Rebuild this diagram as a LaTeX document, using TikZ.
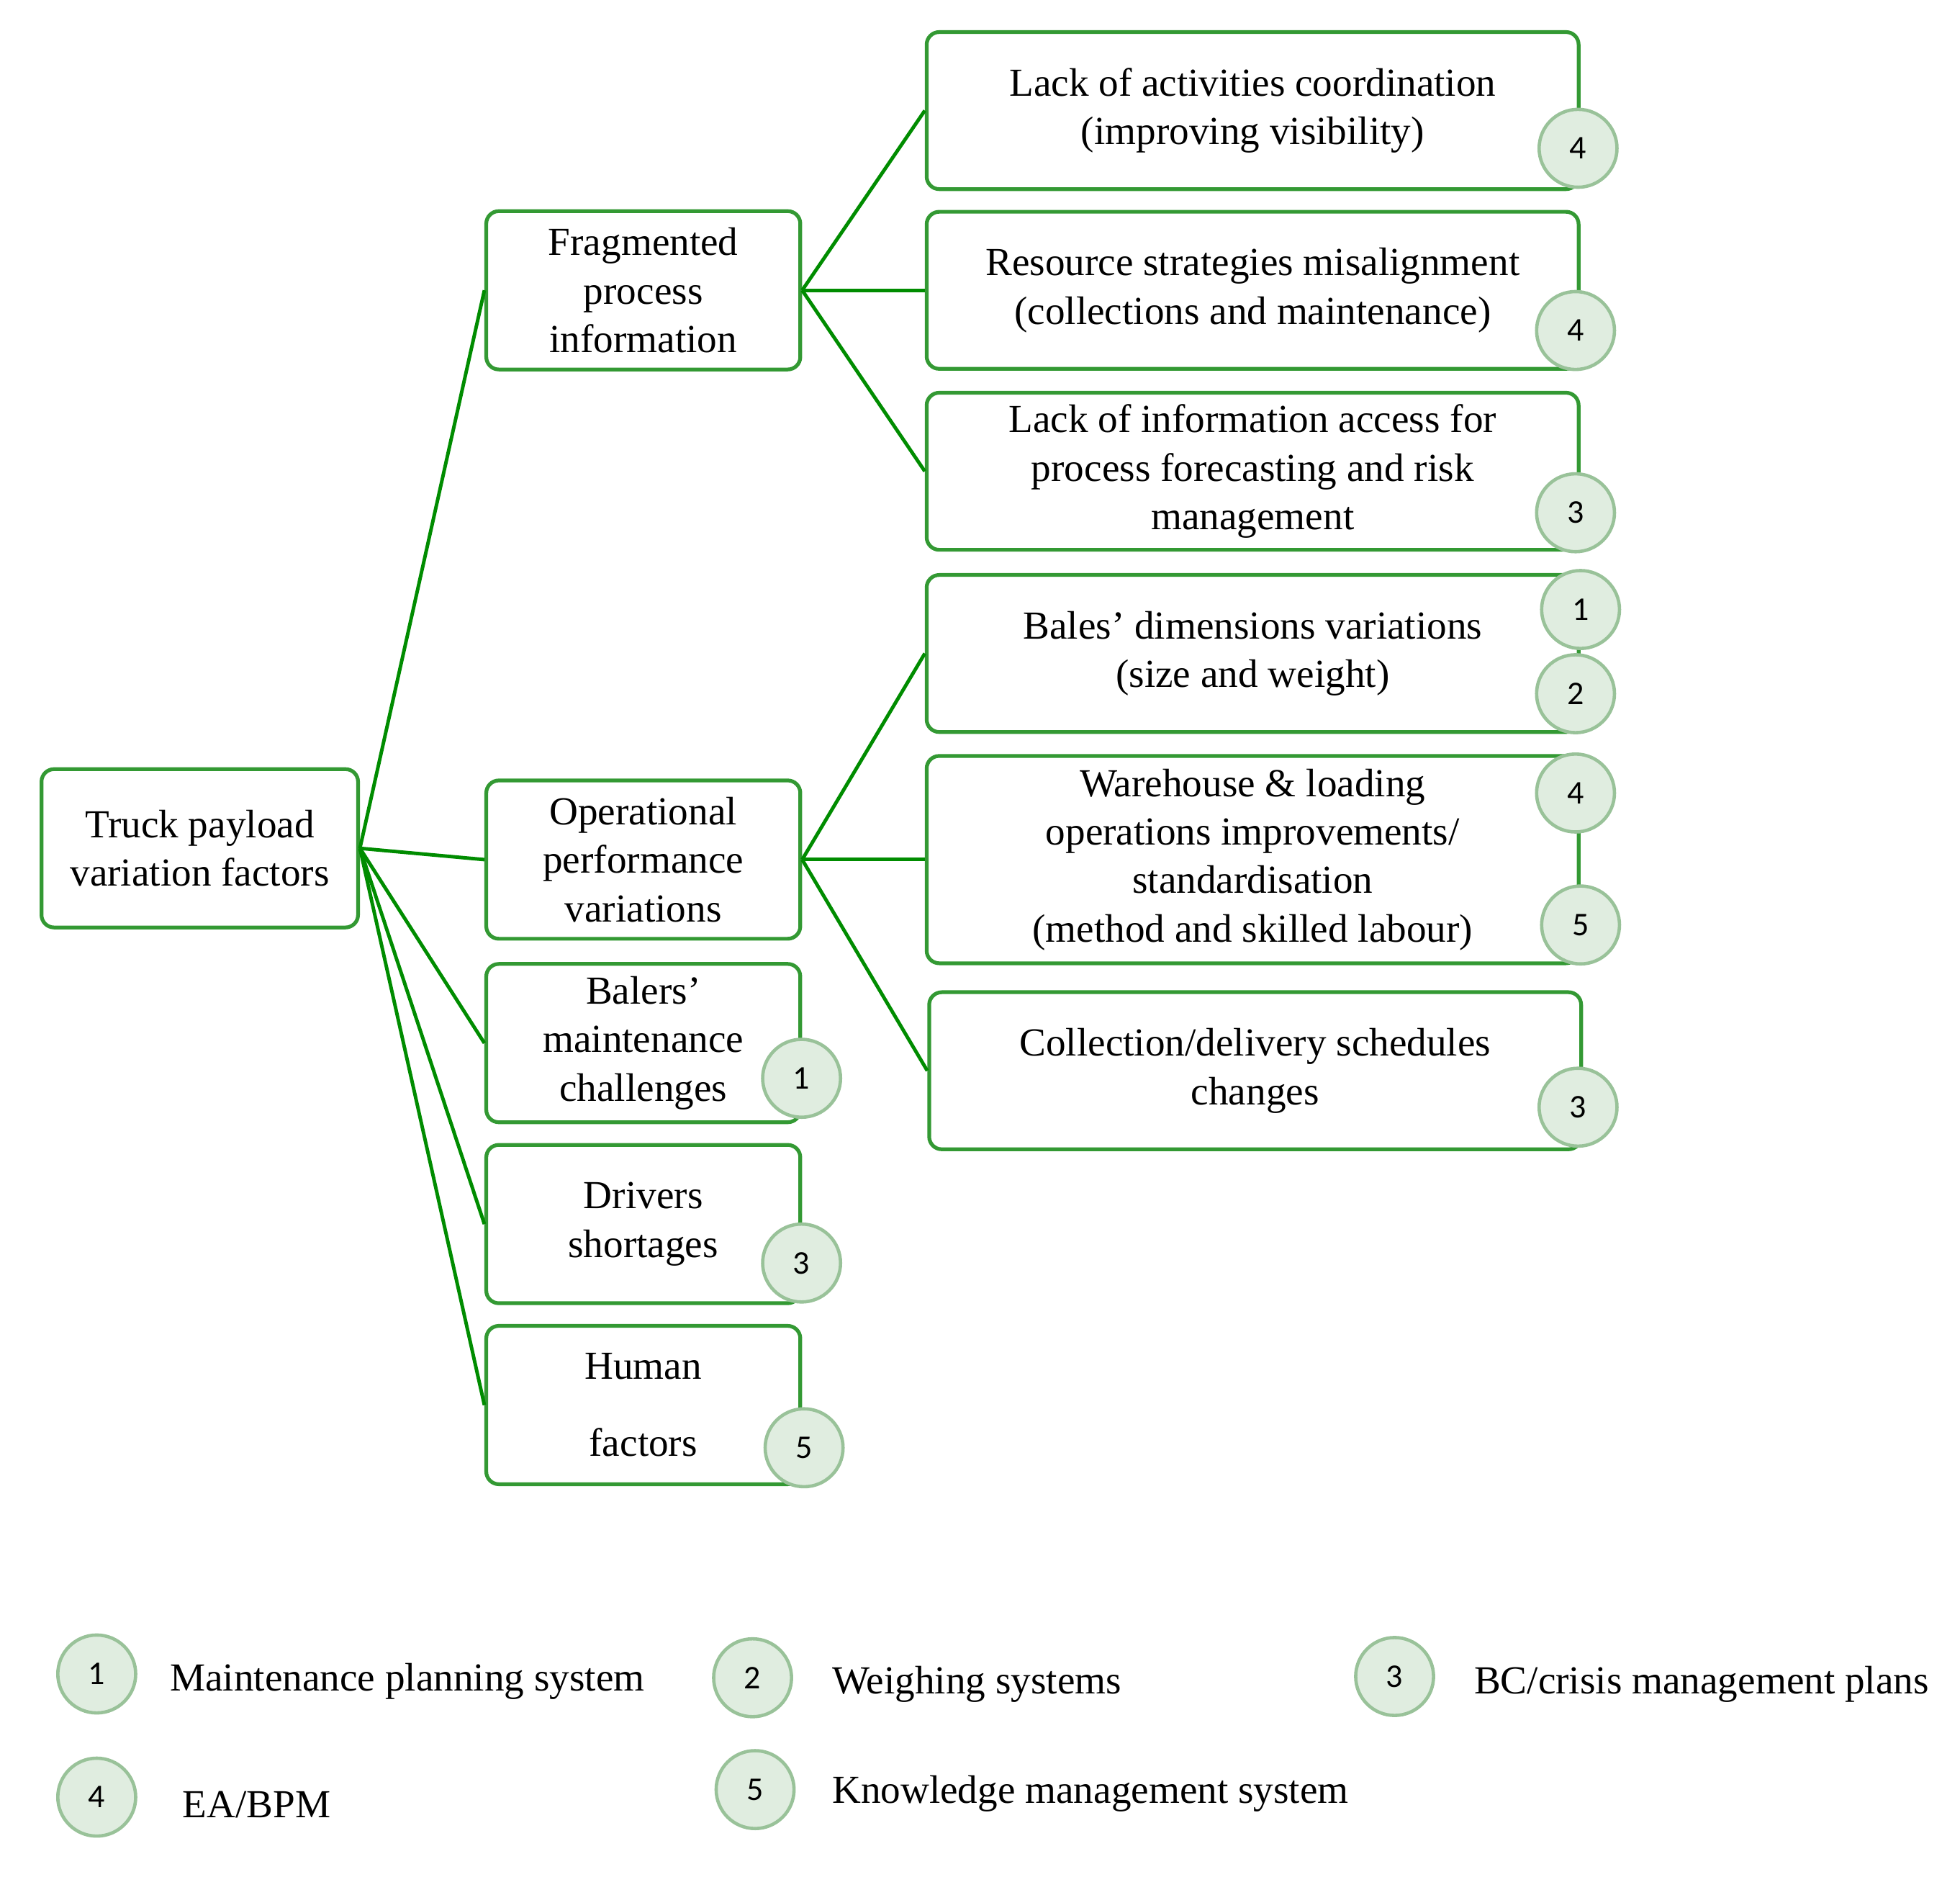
\documentclass[tikz,border=0pt]{standalone}
\usepackage{fontspec}
\setmainfont{Liberation Serif}
\newfontfamily\numfont{Carlito}
\begin{document}
\begin{tikzpicture}[x=0.02cm,y=-0.02cm,
  box/.style={draw=green!50!black!80, line width=1.7pt, rounded corners=0.2cm, align=center,
    font=\fontsize{18}{22}\selectfont, inner sep=0pt},
  mid/.style={box, minimum width=5cm, minimum height=2.52cm},
  rt/.style={box, minimum width=10.38cm, minimum height=2.5cm},
  num/.style={circle, draw=green!40!black!40, fill=green!40!black!12, line width=1.5pt,
    minimum size=1.24cm, inner sep=0pt, font=\numfont\fontsize{15}{16}\selectfont},
  lg/.style={anchor=west, font=\fontsize{18}{22}\selectfont, inner sep=0pt},
  con/.style={draw=green!55!black, line width=1.6pt}]
\useasboundingbox (0,0) rectangle (1560,1493);
\node[box, minimum width=5.04cm, minimum height=2.52cm] (root) at (159,675) {Truck payload\\variation factors};
\node[mid] (frag) at (512,231) {Fragmented\\process\\information};
\node[mid] (oper) at (512,684) {Operational\\performance\\variations};
\node[mid] (bal) at (512,830) {Balers'\\maintenance\\challenges};
\node[mid] (drv) at (512,974) {Drivers\\shortages};
\node[mid] (hum) at (512,1118) {Human\\[0.45cm]factors};
\node[rt] (r1) at (997,88) {Lack of activities coordination\\(improving visibility)};
\node[rt] (r2) at (997,231) {Resource strategies misalignment\\(collections and maintenance)};
\node[rt] (r3) at (997,375) {Lack of information access for\\process forecasting and risk\\management};
\node[rt] (r4) at (997,520) {Bales' dimensions variations\\(size and weight)};
\node[rt, minimum height=3.3cm] (r5) at (997,684) {Warehouse \& loading\\operations improvements/\\standardisation\\(method and skilled labour)};
\node[rt] (r6) at (999,852) {Collection/delivery schedules\\changes};
\foreach \m in {frag,oper,bal,drv,hum} \draw[con] (root.east) -- (\m.west);
\foreach \r in {r1,r2,r3} \draw[con] (frag.east) -- (\r.west);
\foreach \r in {r4,r5,r6} \draw[con] (oper.east) -- (\r.west);
\node[num] (c1) at (1256,118) {4};
\node[num] (c2) at (1254,263) {4};
\node[num] (c3) at (1254,408) {3};
\node[num] (c4) at (1258,485) {1};
\node[num] (c5) at (1254,552) {2};
\node[num] (c6) at (1254,631) {4};
\node[num] (c7) at (1258,736) {5};
\node[num] (c8) at (1256,881) {3};
\node[num] (c9) at (638,858) {1};
\node[num] (c10) at (638,1005) {3};
\node[num] (c11) at (640,1152) {5};
\node[num] (l1) at (77,1332) {1};
\node[lg] (t1) at (135,1338) {Maintenance planning system};
\node[num] (l2) at (599,1335) {2};
\node[lg] (t2) at (662,1340) {Weighing systems};
\node[num] (l3) at (1110,1334) {3};
\node[lg] (t3) at (1173,1340) {BC/crisis management plans};
\node[num] (l4) at (77,1430) {4};
\node[lg] (t4) at (145,1436) {EA/BPM};
\node[num] (l5) at (601,1424) {5};
\node[lg] (t5) at (662,1427) {Knowledge management system};
\end{tikzpicture}
\end{document}
